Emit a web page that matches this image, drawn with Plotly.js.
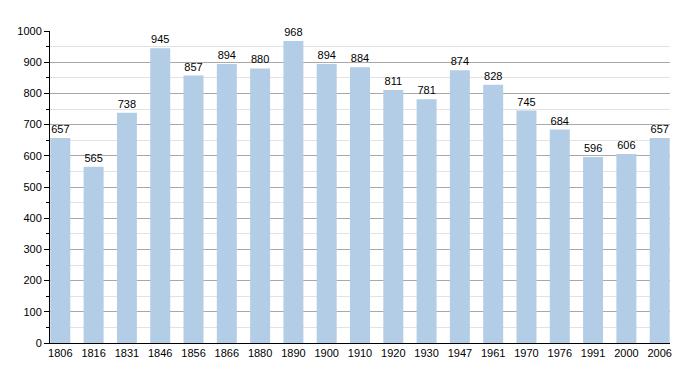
<!DOCTYPE html>
<html><head><meta charset="utf-8">
<script src="https://cdn.plot.ly/plotly-3.0.1.min.js"></script>
<style>html,body{margin:0;padding:0;background:#fff}</style>
</head><body><div id="c" style="width:700px;height:373px"></div>
<script>
const years = ["1806","1816","1831","1846","1856","1866","1880","1890","1900","1910","1920","1930","1947","1961","1970","1976","1991","2000","2006"];
const population = [657,565,738,945,857,894,880,968,894,884,811,781,874,828,745,684,596,606,657];
const yTicks = [0,100,200,300,400,500,600,700,800,900,1000];

Plotly.newPlot('c', [{
  type: 'bar',
  x: years,
  y: population,
  width: 0.6,
  marker: {color: '#b3cde6', line: {width: 0}},
  text: population.map(String),
  textposition: 'outside',
  textfont: {family: 'Liberation Sans, Arial, sans-serif', size: 11, color: '#000'},
  cliponaxis: false,
  hoverinfo: 'none'
}], {
  width: 700, height: 373,
  margin: {l: 50, r: 30, t: 31, b: 30},
  paper_bgcolor: '#fff', plot_bgcolor: '#fff',
  showlegend: false,
  bargap: 0.4,
  xaxis: {
    type: 'category',
    range: [-0.31, 18.31],
    showline: true, linecolor: '#000', linewidth: 1,
    ticks: '', showgrid: false,
    tickfont: {family: 'Liberation Sans, Arial, sans-serif', size: 11, color: '#000'}
  },
  yaxis: {
    range: [0, 1000],
    tickvals: yTicks,
    ticktext: yTicks.map(String),
    showline: true, linecolor: '#000', linewidth: 1,
    ticks: 'outside', ticklen: 5, tickcolor: '#000',
    gridcolor: '#a8a8a8', gridwidth: 1,
    zeroline: false,
    minor: {dtick: 50, ticks: 'outside', ticklen: 3, tickcolor: '#000', showgrid: true, gridcolor: '#e2e2e2', gridwidth: 1},
    tickfont: {family: 'Liberation Sans, Arial, sans-serif', size: 11, color: '#000'}
  }
}, {displayModeBar: false, staticPlot: true});
</script></body></html>
